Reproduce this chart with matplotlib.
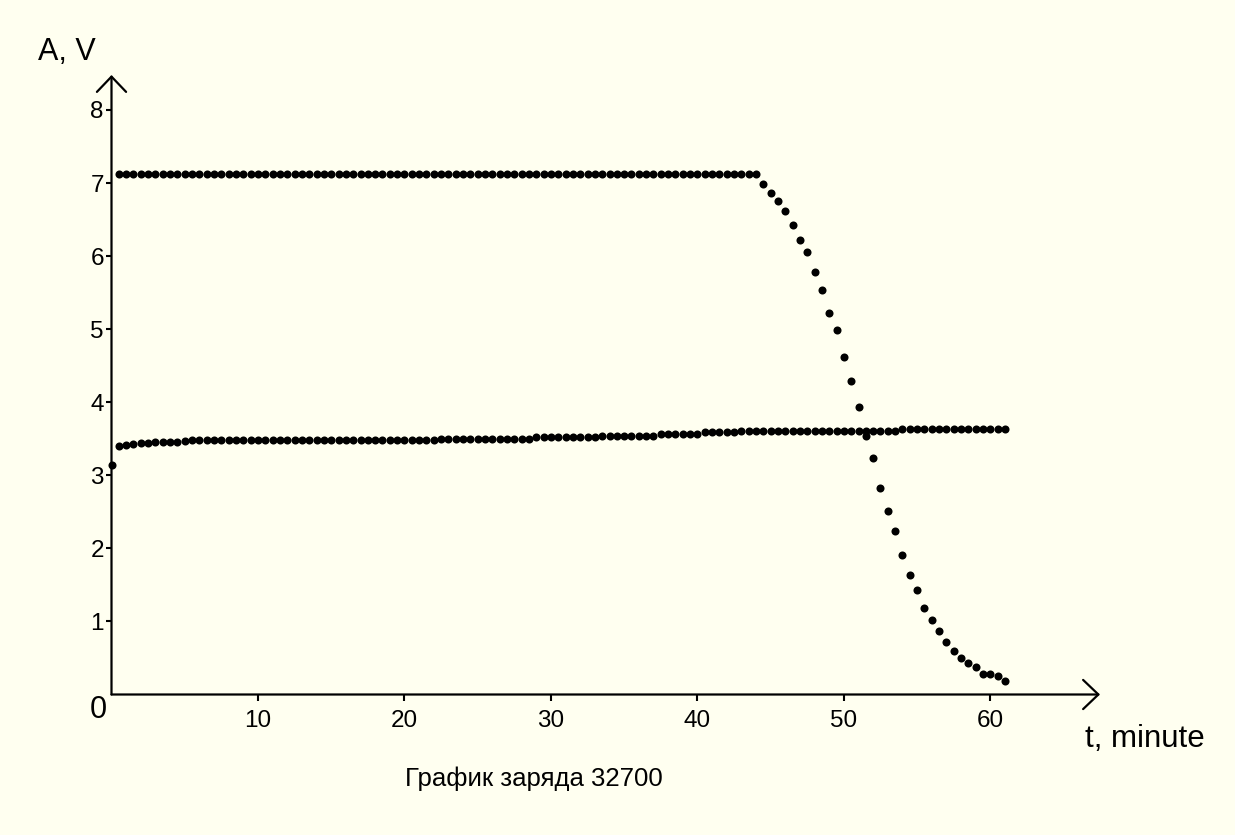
import matplotlib
matplotlib.use("Agg")
import matplotlib.pyplot as plt
import numpy as np

BG = "#FFFFF0"
INK = "#000000"
W, H = 1235, 835

STEP = 0.5            # minutes between samples
CURRENT_START = 0.5   # first current sample
VOLTAGE_START = 0.0   # first voltage sample

# charge current, A (flat CC part, then CV tail)
current = [
    7.13, 7.13, 7.13, 7.13, 7.13, 7.13, 7.13, 7.13, 7.13, 7.13,
    7.13, 7.13, 7.13, 7.13, 7.13, 7.13, 7.13, 7.13, 7.13, 7.13,
    7.13, 7.13, 7.13, 7.13, 7.13, 7.13, 7.13, 7.13, 7.13, 7.13,
    7.13, 7.13, 7.13, 7.13, 7.13, 7.13, 7.13, 7.13, 7.13, 7.13,
    7.13, 7.13, 7.13, 7.13, 7.13, 7.13, 7.13, 7.13, 7.13, 7.13,
    7.13, 7.13, 7.13, 7.13, 7.13, 7.13, 7.13, 7.13, 7.13, 7.13,
    7.13, 7.13, 7.13, 7.13, 7.13, 7.13, 7.13, 7.13, 7.13, 7.13,
    7.13, 7.13, 7.13, 7.13, 7.13, 7.13, 7.13, 7.13, 7.13, 7.13,
    7.13, 7.13, 7.13, 7.13, 7.13, 7.13, 7.13, 7.13,
    6.99, 6.86, 6.75, 6.62, 6.43, 6.22, 6.06, 5.78, 5.54, 5.22,
    4.99, 4.62, 4.29, 3.93, 3.54, 3.24, 2.82, 2.51, 2.24, 1.91,
    1.64, 1.43, 1.18, 1.02, 0.87, 0.72, 0.59, 0.50, 0.43, 0.38,
    0.28, 0.28, 0.25, 0.18,
]

# cell voltage, V
voltage = [
    3.14, 3.40, 3.41, 3.43, 3.44, 3.44, 3.45, 3.45, 3.46, 3.46,
    3.47, 3.48, 3.48, 3.48, 3.48, 3.48, 3.48, 3.48, 3.48, 3.48,
    3.48, 3.48, 3.48, 3.48, 3.48, 3.48, 3.48, 3.49, 3.49, 3.49,
    3.49, 3.49, 3.49, 3.49, 3.49, 3.49, 3.49, 3.49, 3.49, 3.49,
    3.49, 3.49, 3.49, 3.49, 3.49, 3.50, 3.50, 3.50, 3.50, 3.50,
    3.50, 3.50, 3.50, 3.50, 3.50, 3.50, 3.50, 3.50, 3.52, 3.52,
    3.52, 3.52, 3.52, 3.52, 3.52, 3.52, 3.52, 3.54, 3.54, 3.54,
    3.54, 3.54, 3.54, 3.54, 3.54, 3.57, 3.57, 3.57, 3.57, 3.57,
    3.57, 3.59, 3.59, 3.59, 3.59, 3.59, 3.61, 3.61, 3.61, 3.61,
    3.61, 3.61, 3.61, 3.61, 3.61, 3.61, 3.61, 3.61, 3.61, 3.61,
    3.61, 3.61, 3.61, 3.61, 3.61, 3.61, 3.61, 3.61, 3.63, 3.63,
    3.63, 3.63, 3.63, 3.63, 3.63, 3.63, 3.63, 3.63, 3.63, 3.63,
    3.63, 3.63, 3.63,
]

x_ticks = [10, 20, 30, 40, 50, 60]
y_ticks = [1, 2, 3, 4, 5, 6, 7, 8]
title = "График заряда 32700"

plt.rcParams["font.family"] = ["Liberation Sans", "DejaVu Sans"]

t_cur = CURRENT_START + np.arange(len(current)) * STEP
t_volt = VOLTAGE_START + np.arange(len(voltage)) * STEP

fig = plt.figure(figsize=(W / 100, H / 100), dpi=100, facecolor=BG)
# axes box: origin at (111.5, 694.5) px, arrows end at x=1100 / y=75 px
left, right, top, bottom = 111.5, 1100, 75, 694.5
ax = fig.add_axes([left / W, 1 - bottom / H, (right - left) / W, (bottom - top) / H])
ax.set_facecolor(BG)
ax.set_xlim(0, 61 * (right - left) / (1005 - left))
ax.set_ylim(0, 8 * (bottom - top) / (bottom - 110))

ax.plot(t_cur, current, "o", color=INK, ms=5.8, mew=0, clip_on=False)
ax.plot(t_volt, voltage, "o", color=INK, ms=5.8, mew=0, clip_on=False)

for s in ax.spines.values():
    s.set_visible(False)

arrow = dict(arrowstyle="->,head_length=1.1,head_width=1.05", lw=1.6,
             color=INK, shrinkA=0, shrinkB=0, mutation_scale=10)
ax.annotate("", xy=(1, 0), xytext=(0, 0), xycoords="axes fraction",
            textcoords="axes fraction", arrowprops=arrow)
ax.annotate("", xy=(0, 1), xytext=(0, 0), xycoords="axes fraction",
            textcoords="axes fraction", arrowprops=arrow)

ax.set_xticks(x_ticks)
ax.set_yticks(y_ticks)
ax.tick_params(axis="both", direction="out", length=4.5, width=1.5,
               color=INK, labelsize=17.5, labelcolor=INK)
ax.tick_params(axis="x", pad=6.5)
ax.tick_params(axis="y", pad=1)

fig.text(107 / W, 1 - 718 / H, "0", fontsize=22, ha="right", va="baseline")
fig.text(38 / W, 1 - 60 / H, "A, V", fontsize=22, ha="left", va="baseline")
fig.text(1085 / W, 1 - 747 / H, "t, minute", fontsize=22.5, ha="left", va="baseline")
fig.text(405 / W, 1 - 786 / H, title, fontsize=18.5, ha="left", va="baseline")

fig.savefig("out.png", dpi=100, facecolor=BG)
